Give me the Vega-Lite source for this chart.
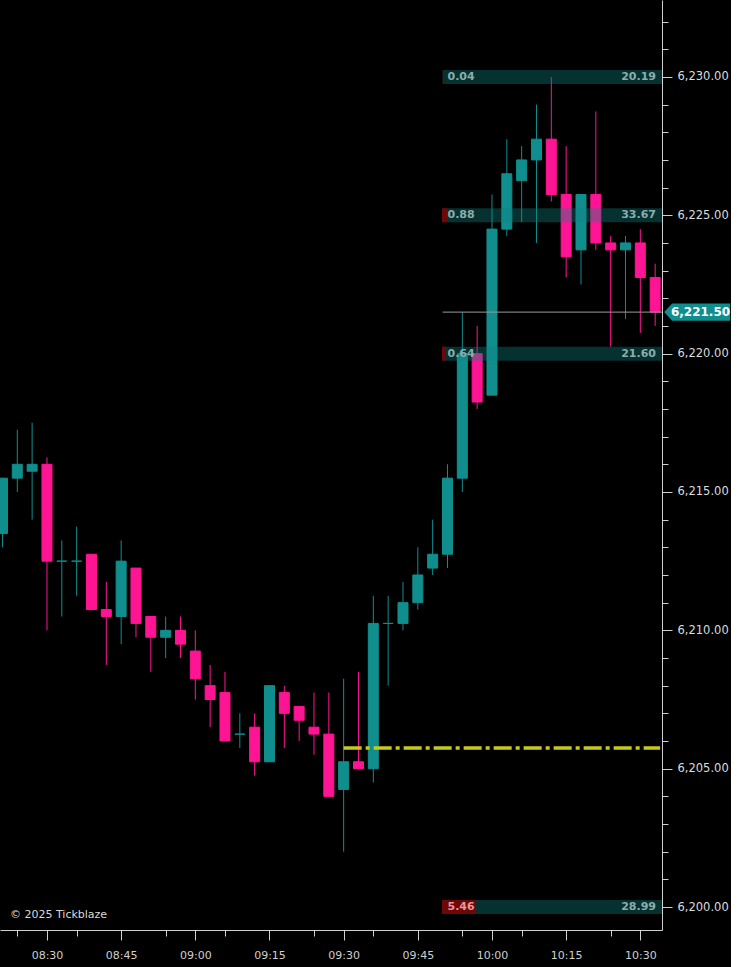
{
  "$schema": "https://vega.github.io/schema/vega-lite/v6.json",
  "width": 662,
  "height": 930,
  "padding": {"left": 0, "top": 0, "right": 0, "bottom": 10},
  "background": "#000000",
  "config": {
    "view": {"stroke": null},
    "axis": {"grid": false, "domainColor": "#cfcfcf", "tickColor": "#cfcfcf", "labelColor": "#cfcfcf", "labelFont": "DejaVu Sans", "labelFontSize": 11, "title": null, "labelOverlap": false}
  },
  "datasets": {
    "bars": [
      {"t": "2025-01-02T08:21:00", "o": 6213.5, "h": 6215.5, "l": 6213.0, "c": 6215.5},
      {"t": "2025-01-02T08:24:00", "o": 6215.5, "h": 6217.25, "l": 6215.0, "c": 6216.0},
      {"t": "2025-01-02T08:27:00", "o": 6215.75, "h": 6217.5, "l": 6214.0, "c": 6216.0},
      {"t": "2025-01-02T08:30:00", "o": 6216.0, "h": 6216.25, "l": 6210.0, "c": 6212.5},
      {"t": "2025-01-02T08:33:00", "o": 6212.5, "h": 6213.25, "l": 6210.5, "c": 6212.5},
      {"t": "2025-01-02T08:36:00", "o": 6212.5, "h": 6213.75, "l": 6211.25, "c": 6212.5},
      {"t": "2025-01-02T08:39:00", "o": 6212.75, "h": 6212.75, "l": 6210.75, "c": 6210.75},
      {"t": "2025-01-02T08:42:00", "o": 6210.75, "h": 6211.75, "l": 6208.75, "c": 6210.5},
      {"t": "2025-01-02T08:45:00", "o": 6210.5, "h": 6213.25, "l": 6209.5, "c": 6212.5},
      {"t": "2025-01-02T08:48:00", "o": 6212.25, "h": 6212.25, "l": 6209.75, "c": 6210.25},
      {"t": "2025-01-02T08:51:00", "o": 6210.5, "h": 6210.5, "l": 6208.5, "c": 6209.75},
      {"t": "2025-01-02T08:54:00", "o": 6209.75, "h": 6210.5, "l": 6209.0, "c": 6210.0},
      {"t": "2025-01-02T08:57:00", "o": 6210.0, "h": 6210.5, "l": 6209.0, "c": 6209.5},
      {"t": "2025-01-02T09:00:00", "o": 6209.25, "h": 6210.0, "l": 6207.5, "c": 6208.25},
      {"t": "2025-01-02T09:03:00", "o": 6208.0, "h": 6208.75, "l": 6206.5, "c": 6207.5},
      {"t": "2025-01-02T09:06:00", "o": 6207.75, "h": 6208.5, "l": 6206.0, "c": 6206.0},
      {"t": "2025-01-02T09:09:00", "o": 6206.25, "h": 6207.0, "l": 6205.75, "c": 6206.25},
      {"t": "2025-01-02T09:12:00", "o": 6206.5, "h": 6207.0, "l": 6204.75, "c": 6205.25},
      {"t": "2025-01-02T09:15:00", "o": 6205.25, "h": 6208.0, "l": 6205.25, "c": 6208.0},
      {"t": "2025-01-02T09:18:00", "o": 6207.75, "h": 6208.0, "l": 6205.75, "c": 6207.0},
      {"t": "2025-01-02T09:21:00", "o": 6207.25, "h": 6207.25, "l": 6206.0, "c": 6206.75},
      {"t": "2025-01-02T09:24:00", "o": 6206.5, "h": 6207.75, "l": 6205.5, "c": 6206.25},
      {"t": "2025-01-02T09:27:00", "o": 6206.25, "h": 6207.75, "l": 6204.0, "c": 6204.0},
      {"t": "2025-01-02T09:30:00", "o": 6204.25, "h": 6208.25, "l": 6202.0, "c": 6205.25},
      {"t": "2025-01-02T09:33:00", "o": 6205.25, "h": 6208.5, "l": 6205.0, "c": 6205.0},
      {"t": "2025-01-02T09:36:00", "o": 6205.0, "h": 6211.25, "l": 6204.5, "c": 6210.25},
      {"t": "2025-01-02T09:39:00", "o": 6210.25, "h": 6211.25, "l": 6208.0, "c": 6210.25},
      {"t": "2025-01-02T09:42:00", "o": 6210.25, "h": 6211.75, "l": 6210.0, "c": 6211.0},
      {"t": "2025-01-02T09:45:00", "o": 6211.0, "h": 6213.0, "l": 6210.75, "c": 6212.0},
      {"t": "2025-01-02T09:48:00", "o": 6212.25, "h": 6214.0, "l": 6212.0, "c": 6212.75},
      {"t": "2025-01-02T09:51:00", "o": 6212.75, "h": 6216.0, "l": 6212.25, "c": 6215.5},
      {"t": "2025-01-02T09:54:00", "o": 6215.5, "h": 6221.5, "l": 6215.0, "c": 6220.0},
      {"t": "2025-01-02T09:57:00", "o": 6220.0, "h": 6221.0, "l": 6218.0, "c": 6218.25},
      {"t": "2025-01-02T10:00:00", "o": 6218.5, "h": 6225.75, "l": 6218.5, "c": 6224.5},
      {"t": "2025-01-02T10:03:00", "o": 6224.5, "h": 6227.75, "l": 6224.25, "c": 6226.5},
      {"t": "2025-01-02T10:06:00", "o": 6226.25, "h": 6227.5, "l": 6224.75, "c": 6227.0},
      {"t": "2025-01-02T10:09:00", "o": 6227.0, "h": 6229.0, "l": 6224.0, "c": 6227.75},
      {"t": "2025-01-02T10:12:00", "o": 6227.75, "h": 6230.0, "l": 6225.5, "c": 6225.75},
      {"t": "2025-01-02T10:15:00", "o": 6225.75, "h": 6227.5, "l": 6222.75, "c": 6223.5},
      {"t": "2025-01-02T10:18:00", "o": 6223.75, "h": 6225.75, "l": 6222.5, "c": 6225.75},
      {"t": "2025-01-02T10:21:00", "o": 6225.75, "h": 6228.75, "l": 6223.75, "c": 6224.0},
      {"t": "2025-01-02T10:24:00", "o": 6224.0, "h": 6224.25, "l": 6220.25, "c": 6223.75},
      {"t": "2025-01-02T10:27:00", "o": 6223.75, "h": 6224.25, "l": 6221.25, "c": 6224.0},
      {"t": "2025-01-02T10:30:00", "o": 6224.0, "h": 6224.5, "l": 6220.75, "c": 6222.75},
      {"t": "2025-01-02T10:33:00", "o": 6222.75, "h": 6223.25, "l": 6221.0, "c": 6221.5}
    ],
    "levels": [
      {"price": 6230, "left": 0.04, "right": 20.19},
      {"price": 6225, "left": 0.88, "right": 33.67},
      {"price": 6220, "left": 0.64, "right": 21.60},
      {"price": 6200, "left": 5.46, "right": 28.99}
    ],
    "last": [{"price": 6221.5}],
    "vwap": [{"level": 6205.75}],
    "credit": [{"label": "© 2025 Tickblaze"}]
  },
  "layer": [
    {
      "layer": [
        {
          "data": {"name": "bars"},
          "mark": {"type": "rule", "strokeWidth": 1, "clip": true},
          "encoding": {
            "x": {
              "field": "t", "type": "temporal",
              "scale": {"domain": [{"year": 2025, "month": 1, "date": 2, "hours": 8, "minutes": 20, "seconds": 30}, {"year": 2025, "month": 1, "date": 2, "hours": 10, "minutes": 34, "seconds": 23}], "nice": false, "padding": 0},
              "axis": {
                "orient": "bottom",
                "tickCount": 200,
                "values": [
                  {"year": 2025, "month": 1, "date": 2, "hours": 8, "minutes": 24},
                  {"year": 2025, "month": 1, "date": 2, "hours": 8, "minutes": 30},
                  {"year": 2025, "month": 1, "date": 2, "hours": 8, "minutes": 36},
                  {"year": 2025, "month": 1, "date": 2, "hours": 8, "minutes": 45},
                  {"year": 2025, "month": 1, "date": 2, "hours": 8, "minutes": 54},
                  {"year": 2025, "month": 1, "date": 2, "hours": 9, "minutes": 0},
                  {"year": 2025, "month": 1, "date": 2, "hours": 9, "minutes": 6},
                  {"year": 2025, "month": 1, "date": 2, "hours": 9, "minutes": 15},
                  {"year": 2025, "month": 1, "date": 2, "hours": 9, "minutes": 24},
                  {"year": 2025, "month": 1, "date": 2, "hours": 9, "minutes": 30},
                  {"year": 2025, "month": 1, "date": 2, "hours": 9, "minutes": 36},
                  {"year": 2025, "month": 1, "date": 2, "hours": 9, "minutes": 45},
                  {"year": 2025, "month": 1, "date": 2, "hours": 9, "minutes": 54},
                  {"year": 2025, "month": 1, "date": 2, "hours": 10, "minutes": 0},
                  {"year": 2025, "month": 1, "date": 2, "hours": 10, "minutes": 6},
                  {"year": 2025, "month": 1, "date": 2, "hours": 10, "minutes": 15},
                  {"year": 2025, "month": 1, "date": 2, "hours": 10, "minutes": 24},
                  {"year": 2025, "month": 1, "date": 2, "hours": 10, "minutes": 30}
                ],
                "labelExpr": "minutes(datum.value) % 15 === 0 ? timeFormat(datum.value, '%H:%M') : ''",
                "tickSize": {"condition": {"test": "minutes(datum.value) % 15 === 0", "value": 10}, "value": 6},
                "labelPadding": 9,
                "labelOverlap": false,
                "labelFlush": false
              }
            },
            "y": {
              "field": "l", "type": "quantitative",
              "scale": {"domain": [6199.17, 6232.78], "nice": false, "zero": false, "padding": 0},
              "axis": {
                "orient": "right",
                "tickCount": 200,
                "values": [6200, 6201, 6202, 6203, 6204, 6205, 6206, 6207, 6208, 6209, 6210, 6211, 6212, 6213, 6214, 6215, 6216, 6217, 6218, 6219, 6220, 6221, 6222, 6223, 6224, 6225, 6226, 6227, 6228, 6229, 6230, 6231, 6232],
                "labelExpr": "datum.value % 5 === 0 ? format(datum.value, ',.2f') : ''",
                "tickSize": {"condition": {"test": "datum.value % 5 === 0", "value": 10}, "value": 6},
                "labelPadding": 5,
                "labelOverlap": false,
                "labelFontSize": 11.5,
                "labelColor": "#dcdcdc"
              }
            },
            "y2": {"field": "h"},
            "color": {"condition": {"test": "datum.c >= datum.o", "value": "#108e8e"}, "value": "#ff1493"}
          }
        },
        {
          "data": {"name": "bars"},
          "mark": {"type": "bar", "size": 10, "strokeWidth": 1, "clip": true},
          "encoding": {
            "x": {"field": "t", "type": "temporal"},
            "y": {"field": "o", "type": "quantitative"},
            "y2": {"field": "c"},
            "fill": {"condition": {"test": "datum.c >= datum.o", "value": "#108e8e"}, "value": "#ff1493"},
            "stroke": {"condition": {"test": "datum.c >= datum.o", "value": "#108e8e"}, "value": "#ff1493"}
          }
        },
        {
          "data": {"name": "levels"},
          "mark": {"type": "bar", "size": 14, "color": "#0f8080", "opacity": 0.38},
          "encoding": {
            "x": {"datum": {"year": 2025, "month": 1, "date": 2, "hours": 9, "minutes": 50}, "type": "temporal"},
            "x2": {"datum": {"year": 2025, "month": 1, "date": 2, "hours": 10, "minutes": 34, "seconds": 23}},
            "y": {"field": "price", "type": "quantitative"}
          }
        }
      ]
    },
    {
      "data": {"name": "levels"},
      "mark": {"type": "bar", "size": 14, "color": "#6e0707"},
      "encoding": {
        "x": {"field": "left", "type": "quantitative", "scale": {"domain": [-70.98, 35.33], "nice": false, "zero": false, "padding": 0}, "axis": null},
        "x2": {"datum": 0},
        "y": {"field": "price", "type": "quantitative"}
      }
    },
    {
      "layer": [
        {
          "data": {"name": "levels"},
          "mark": {"type": "text", "align": "left", "baseline": "middle", "dx": 5, "font": "DejaVu Sans", "fontSize": 11, "fontWeight": "bold"},
          "encoding": {
            "x": {"datum": {"year": 2025, "month": 1, "date": 2, "hours": 9, "minutes": 50}, "type": "temporal", "scale": {"domain": [{"year": 2025, "month": 1, "date": 2, "hours": 8, "minutes": 20, "seconds": 30}, {"year": 2025, "month": 1, "date": 2, "hours": 10, "minutes": 34, "seconds": 23}], "nice": false, "padding": 0}, "axis": null},
            "y": {"field": "price", "type": "quantitative"},
            "text": {"field": "left", "type": "quantitative", "format": ".2f"},
            "color": {"condition": {"test": "datum.left > 2", "value": "#e39a9a"}, "value": "#8aadad"}
          }
        },
        {
          "data": {"name": "levels"},
          "mark": {"type": "text", "align": "right", "baseline": "middle", "dx": -6, "font": "DejaVu Sans", "fontSize": 11, "fontWeight": "bold", "color": "#8aadad"},
          "encoding": {
            "x": {"datum": {"year": 2025, "month": 1, "date": 2, "hours": 10, "minutes": 34, "seconds": 23}, "type": "temporal"},
            "y": {"field": "price", "type": "quantitative"},
            "text": {"field": "right", "type": "quantitative", "format": ".2f"}
          }
        },
        {
          "data": {"name": "last"},
          "mark": {"type": "rule", "color": "#9a9a9a", "strokeWidth": 1},
          "encoding": {
            "x": {"datum": {"year": 2025, "month": 1, "date": 2, "hours": 9, "minutes": 50}, "type": "temporal"},
            "x2": {"datum": {"year": 2025, "month": 1, "date": 2, "hours": 10, "minutes": 34, "seconds": 23}},
            "y": {"field": "price", "type": "quantitative"}
          }
        },
        {
          "data": {"name": "vwap"},
          "mark": {"type": "rule", "color": "#c9c91c", "strokeWidth": 3.5, "strokeDash": [18, 4, 4, 4]},
          "encoding": {
            "x": {"datum": {"year": 2025, "month": 1, "date": 2, "hours": 9, "minutes": 30}, "type": "temporal"},
            "x2": {"datum": {"year": 2025, "month": 1, "date": 2, "hours": 10, "minutes": 34}},
            "y": {"field": "level", "type": "quantitative"}
          }
        },
        {
          "data": {"name": "last"},
          "mark": {"type": "point", "shape": "M-1,0L-0.76,-0.26L1,-0.26L1,0.26L-0.76,0.26Z", "size": 4356, "filled": true, "opacity": 1, "color": "#108e8e"},
          "encoding": {
            "x": {"datum": {"year": 2025, "month": 1, "date": 2, "hours": 10, "minutes": 41, "seconds": 30}, "type": "temporal"},
            "y": {"field": "price", "type": "quantitative"}
          }
        },
        {
          "data": {"name": "last"},
          "mark": {"type": "text", "align": "center", "baseline": "middle", "font": "DejaVu Sans", "fontSize": 12, "fontWeight": "bold", "color": "#ffffff"},
          "encoding": {
            "x": {"datum": {"year": 2025, "month": 1, "date": 2, "hours": 10, "minutes": 42, "seconds": 10}, "type": "temporal"},
            "y": {"field": "price", "type": "quantitative"},
            "text": {"field": "price", "type": "quantitative", "format": ",.2f"}
          }
        },
        {
          "data": {"name": "credit"},
          "mark": {"type": "text", "align": "left", "baseline": "middle", "font": "DejaVu Sans", "fontSize": 11, "color": "#d8d8d8"},
          "encoding": {
            "x": {"datum": {"year": 2025, "month": 1, "date": 2, "hours": 8, "minutes": 22, "seconds": 31}, "type": "temporal"},
            "y": {"datum": 6199.7, "type": "quantitative"},
            "text": {"field": "label"}
          }
        }
      ]
    }
  ],
  "resolve": {"scale": {"x": "independent"}}
}
